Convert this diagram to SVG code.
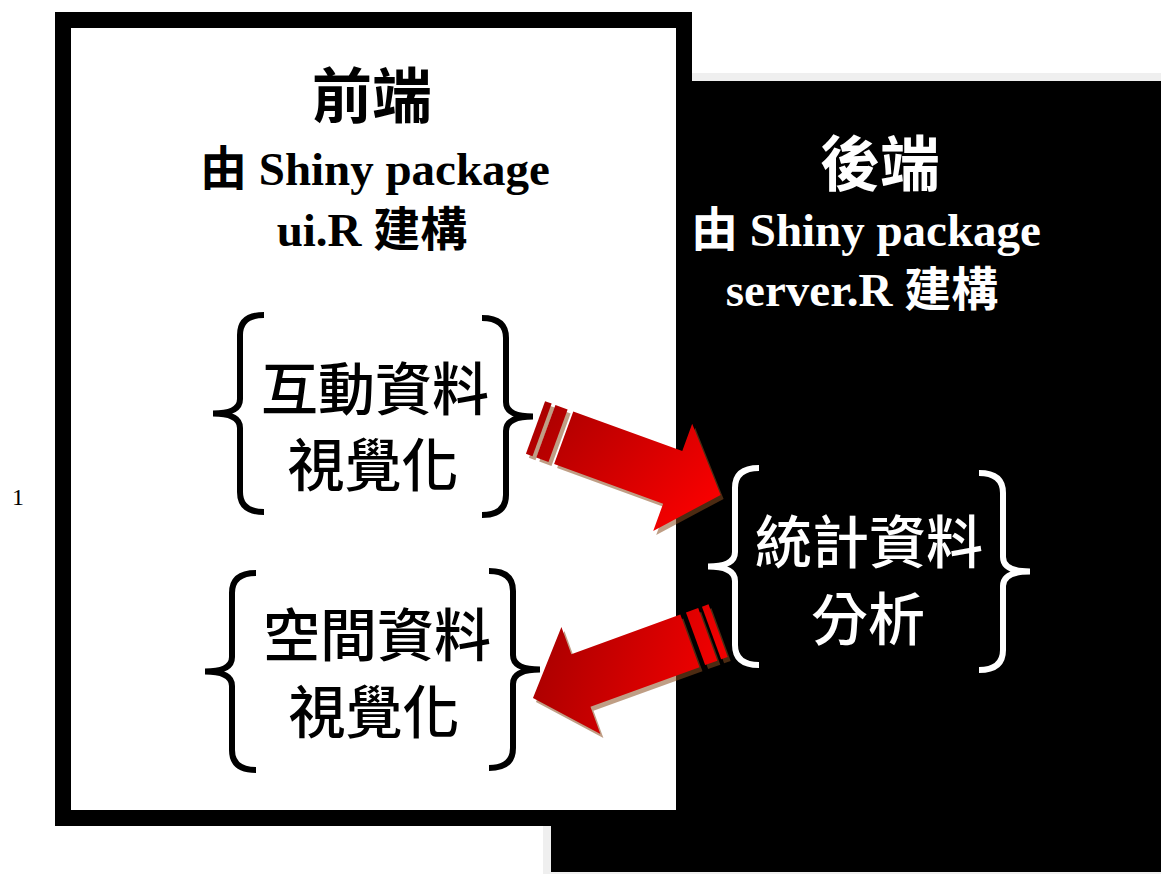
<svg xmlns="http://www.w3.org/2000/svg" xmlns:xlink="http://www.w3.org/1999/xlink" width="1161" height="874" viewBox="0 0 1161 874">
<style>
.t{font-family:"Liberation Serif","Noto Sans CJK TC",serif;font-weight:bold;text-anchor:middle}
.c{font-family:"Noto Sans CJK TC","Noto Sans CJK SC",sans-serif;text-anchor:middle;font-size:57px;font-weight:500}
.k{fill:#000}
.w{fill:#fff}
.brace{fill:none;stroke-width:6;stroke-linecap:butt;stroke-linejoin:miter;stroke-miterlimit:20}
.shadow{fill:#8b4f20;fill-opacity:0.55}
</style>
<defs>
<path id="br" d="M51,0 Q27,0 27,20 L27,84 Q27,98.5 0,98.5 Q27,98.5 27,113 L27,177 Q27,197 51,197"/>
<g id="arrow">
<polygon points="30,-28 146,-28 146,-57 197,0 146,57 146,28 30,28"/>
<rect x="0" y="-28" width="7" height="56"/>
<rect x="11" y="-28" width="13" height="56"/>
</g>
<linearGradient id="g1" gradientUnits="userSpaceOnUse" x1="0" y1="-40" x2="197" y2="40">
<stop offset="0" stop-color="#a80000"/>
<stop offset="1" stop-color="#ff0000"/>
</linearGradient>
<linearGradient id="g2" gradientUnits="userSpaceOnUse" x1="170" y1="60" x2="30" y2="-50">
<stop offset="0" stop-color="#a80000"/>
<stop offset="1" stop-color="#f00000"/>
</linearGradient>
</defs>

<text x="18" y="505" font-family="Liberation Serif, serif" font-size="24" text-anchor="middle" fill="#000">1</text>

<g id="backend">
<rect x="543" y="73" width="618" height="801" fill="#efefef"/>
<rect x="551" y="81" width="610" height="791" fill="#000"/>
<text class="t w" x="880" y="186" font-size="60">後端</text>
<text class="t w" x="866" y="246" font-size="47">由 Shiny package</text>
<text class="t w" x="862" y="306" font-size="47">server.R 建構</text>
</g>

<g id="frontend">
<rect x="63" y="20" width="621" height="798" fill="#fff" stroke="#000" stroke-width="16"/>
<text class="t k" x="372" y="118" font-size="60">前端</text>
<text class="t k" x="375" y="185" font-size="47">由 Shiny package</text>
<text class="t k" x="372" y="246" font-size="47">ui.R 建構</text>
</g>

<g id="connectors">
<g transform="translate(3,4)">
<use xlink:href="#arrow" class="shadow" transform="translate(535.5,427.5) rotate(20)"/>
<use xlink:href="#arrow" class="shadow" transform="translate(718.1,630.6) rotate(160)"/>
</g>
<use xlink:href="#arrow" fill="url(#g1)" transform="translate(535.5,427.5) rotate(20)"/>
<use xlink:href="#arrow" fill="url(#g2)" transform="translate(718.1,630.6) rotate(160)"/>
</g>

<g id="interactive-viz">
<use xlink:href="#br" class="brace" stroke="#000" transform="translate(213,315)"/>
<use xlink:href="#br" class="brace" stroke="#000" transform="translate(533,318) scale(-1,1)"/>
<text class="c k" x="375" y="410">互動資料</text>
<text class="c k" x="373" y="486">視覺化</text>
</g>

<g id="spatial-viz">
<use xlink:href="#br" class="brace" stroke="#000" transform="translate(205,573)"/>
<use xlink:href="#br" class="brace" stroke="#000" transform="translate(540,571) scale(-1,1)"/>
<text class="c k" x="377" y="656">空間資料</text>
<text class="c k" x="374" y="733">視覺化</text>
</g>

<g id="stat-analysis">
<use xlink:href="#br" class="brace" stroke="#fff" transform="translate(708,468)"/>
<use xlink:href="#br" class="brace" stroke="#fff" transform="translate(1030,473) scale(-1,1)"/>
<text class="c w" x="869" y="563">統計資料</text>
<text class="c w" x="868" y="640">分析</text>
</g>
</svg>
